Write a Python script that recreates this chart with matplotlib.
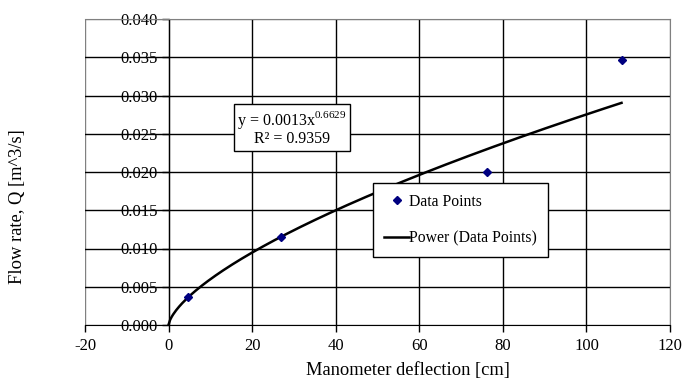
import numpy as np
import matplotlib
matplotlib.use("Agg")
import matplotlib.pyplot as plt
from matplotlib.patches import Rectangle

deflection = [4.6, 27.0, 76.2, 108.4]
flow = [0.0037, 0.0115, 0.0200, 0.0346]

# power trendline from the label
coef = 0.0013
expo = 0.6629
r2 = 0.9359

x_ticks = [-20, 0, 20, 40, 60, 80, 100, 120]
y_ticks = [0.000, 0.005, 0.010, 0.015, 0.020, 0.025, 0.030, 0.035, 0.040]

plt.rcParams['font.family'] = ['Liberation Serif', 'DejaVu Serif']
plt.rcParams['mathtext.fontset'] = 'custom'
plt.rcParams['mathtext.rm'] = 'Liberation Serif'
plt.rcParams['axes.unicode_minus'] = False

fig = plt.figure(figsize=(6.82, 3.92), dpi=100)
ax = fig.add_axes([85 / 682, 1 - 325 / 392, 585 / 682, 306 / 392])

ax.set_xlim(x_ticks[0], x_ticks[-1])
ax.set_ylim(y_ticks[0], y_ticks[-1])
ax.set_xticks(x_ticks)
ax.set_yticks(y_ticks)
ax.set_yticklabels(["%.3f" % v for v in y_ticks])

for v in y_ticks[1:-1]:
    ax.axhline(v, color="black", lw=1.0, zorder=1)
for v in x_ticks[1:-1]:
    ax.axvline(v, color="black", lw=1.0, zorder=1)

for s in ["top", "right"]:
    ax.spines[s].set_color("#808080")
ax.spines["left"].set_position(("data", 0))
ax.spines["left"].set_color("black")
ax.spines["bottom"].set_color("black")
ax.add_patch(Rectangle((0, 0), 1, 1, transform=ax.transAxes, fill=False,
                       edgecolor="#808080", lw=1.0, zorder=0.5))

ax.tick_params(axis="both", labelsize=12, length=5, width=1, color="black")
ax.tick_params(axis="y", pad=3)
ax.tick_params(axis="x", pad=4)

xf = np.linspace(0.01, max(deflection), 300)
ax.plot(xf, coef * xf ** expo, color="black", lw=1.8, zorder=3,
        label="Power (Data Points)")
ax.plot(deflection, flow, linestyle="none", marker="D", ms=4,
        color="#000080", zorder=4, label="Data Points")

ax.set_xlabel("Manometer deflection [cm]", fontsize=13.3)
ax.xaxis.set_label_coords((408 - 85) / 585, -(370 - 325) / 306)
ax.xaxis.label.set_va("center")
ax.set_ylabel("Flow rate, Q [m^3/s]", fontsize=13.3)
ax.yaxis.set_label_coords(-(85 - 18) / 585, (325 - 207) / 306)
ax.yaxis.label.set_va("center")

ax.text(29.5, 0.0257, r"y = 0.0013x$^{0.6629}$" + "\n" + "R² = %.4f" % r2,
        fontsize=11.5, ha="center", va="center", linespacing=1.0, zorder=5,
        bbox=dict(boxstyle="square,pad=0.2", fc="white", ec="black", lw=1))

h, l = ax.get_legend_handles_labels()
leg = ax.legend(h[::-1], l[::-1], loc="upper left",
                bbox_to_anchor=((373 - 85) / 585, (325 - 183) / 306),
                fontsize=11.3, frameon=True, fancybox=False, edgecolor="black",
                framealpha=1, borderpad=0.7, labelspacing=1.3,
                handlelength=1.6, handletextpad=0.0, borderaxespad=0)
leg.get_frame().set_linewidth(1)
leg.set_zorder(6)

fig.savefig("out.png", dpi=100)
